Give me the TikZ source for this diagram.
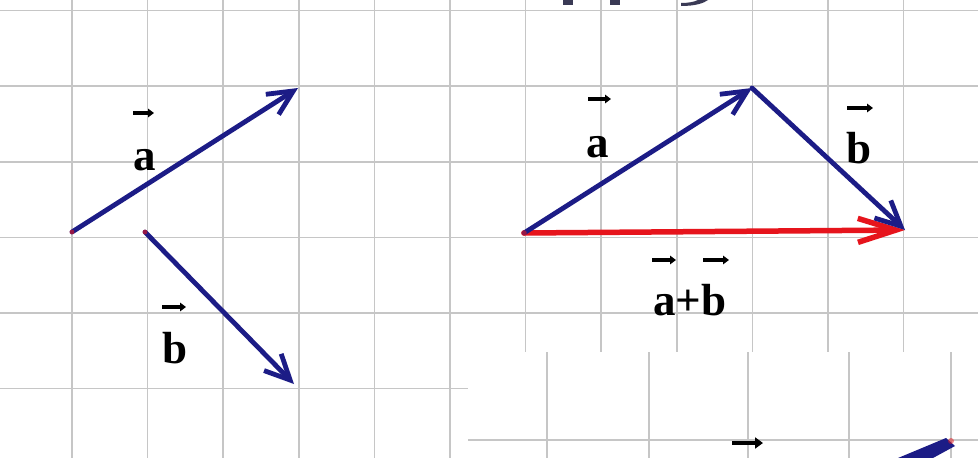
\documentclass[tikz,border=0pt]{standalone}
\usepackage{fontspec}
\setmainfont{Liberation Serif}
\usetikzlibrary{arrows.meta}
\definecolor{gridc}{HTML}{C6C6C6}
\definecolor{navy}{HTML}{1C1C86}
\definecolor{redv}{HTML}{E6141C}
\definecolor{topink}{HTML}{3A3A55}
\begin{document}
\begin{tikzpicture}[x=1pt,y=-1pt,
  gridline/.style={gridc, line width=1.6pt},
  vec/.style={navy, line width=4.8pt, line cap=round,
    -{Straight Barb[length=25pt,width=24pt,line width=4.8pt]}},
  sumvec/.style={redv, line width=5.5pt, line cap=round,
    -{Straight Barb[length=38pt,width=24pt,line width=5.5pt]}},
  lab/.style={inner sep=0pt, anchor=base, font=\fontsize{45}{45}\selectfont\bfseries},
  overarr/.style={black, line width=3.4pt, -{Triangle[length=6pt,width=8.5pt]}},
  bigarr/.style={black, line width=4.5pt, -{Triangle[length=8pt,width=11pt]}},
  tipdot/.style={redv, opacity=0.6}
]
\useasboundingbox (0,0) rectangle (978,458);
\fill[white] (0,0) rectangle (978,458);
% main grid
\foreach \k in {0,...,12} \draw[gridline] ({72+75.6*\k},0) -- ({72+75.6*\k},458);
\foreach \k in {0,...,5} \draw[gridline] (0,{10.5+75.6*\k}) -- (978,{10.5+75.6*\k});
% cut-off title glyphs at the top
\fill[topink] (563,0) rectangle (573,5);
\fill[topink] (610,0) rectangle (620,5);
\fill[topink] (681,3) -- (681,6) .. controls (696,6) and (704,3) .. (708,0) -- (698,0) .. controls (694,2) and (688,3) .. (681,3) -- cycle;
% left: separate vectors
\coordinate (La0) at (72,232);
\coordinate (La1) at (298,88);
\coordinate (Lb0) at (145,232);
\coordinate (Lb1) at (294,384);
\draw[vec] (La0) -- (La1);
\draw[vec] (Lb0) -- (Lb1);
\fill[tipdot] (La0) circle (2.4);
\fill[tipdot] (Lb0) circle (2.4);
\node[lab] (la) at (145,170) {a};
\draw[overarr] (133,113) -- (154,113);
\node[lab] (lb) at (175,363) {b};
\draw[overarr] (162,307) -- (186,307);
% right: triangle rule
\coordinate (P) at (524,233);
\coordinate (Q) at (752,88);
\coordinate (R) at (905,230);
\draw[sumvec] (P) -- (R);
\draw[vec] (P) -- (Q);
\draw[vec] (Q) -- (R);
\fill[tipdot] (P) circle (2.8);
\node[lab] (ra) at (598,157) {a};
\draw[overarr] (588,99) -- (611,99);
\node[lab] (rb) at (859,163) {b};
\draw[overarr] (847,108) -- (873,108);
\node[lab] (rs) at (690,315) {a+b};
\draw[overarr] (652,260) -- (676,260);
\draw[overarr] (703,260) -- (729,260);
% inset picture at bottom right
\fill[white] (468,352) rectangle (978,458);
\foreach \x in {547,649,748,849,951} \draw[gridline] (\x,352) -- (\x,458);
\draw[gridline] (468,440) -- (978,440);
\draw[bigarr] (732,443) -- (763,443);
\fill[navy] (898,458) -- (946,438) -- (955,446) -- (933,458) -- cycle;
\fill[redv, opacity=0.5] (951,441) circle (3);
\end{tikzpicture}
\end{document}
